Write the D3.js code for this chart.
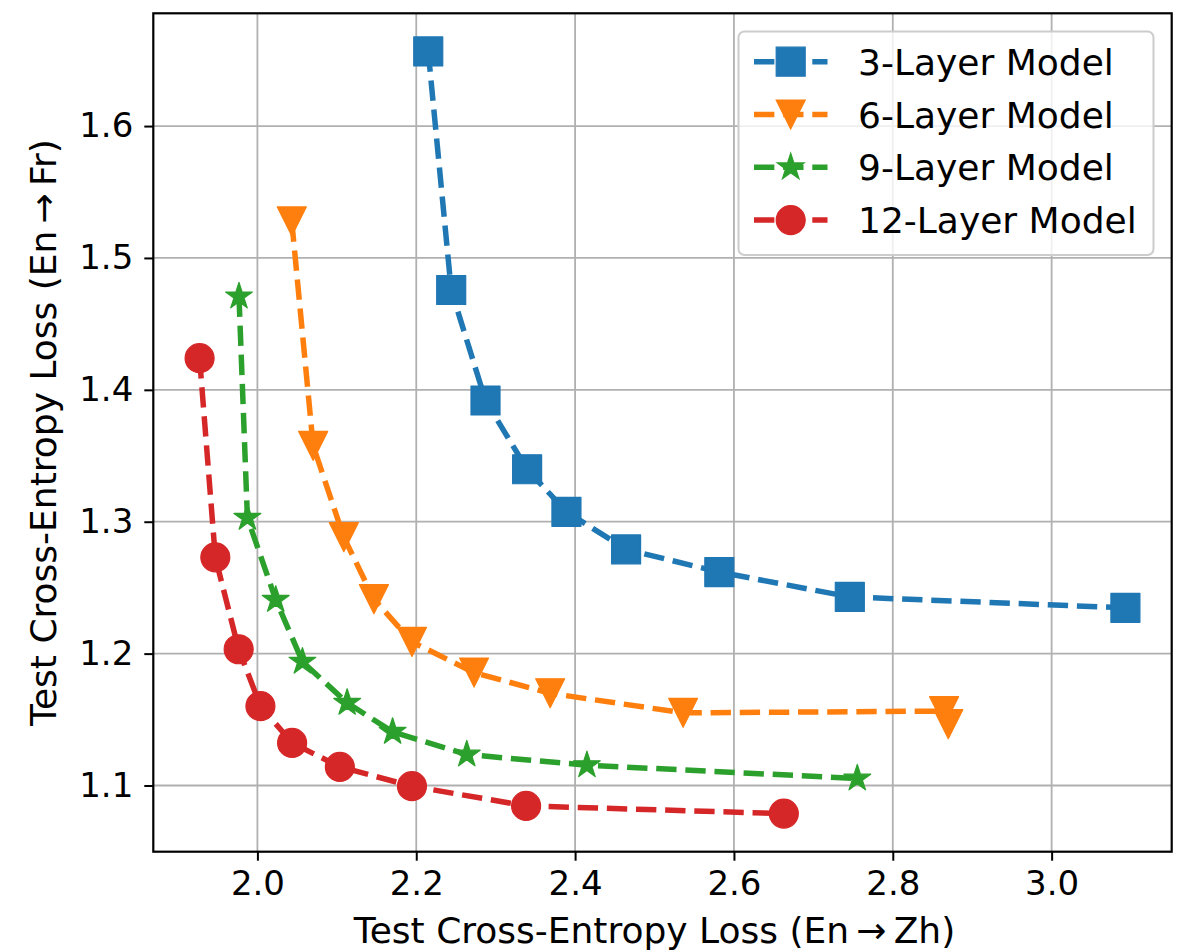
<!DOCTYPE html>
<html>
<head>
<meta charset="utf-8">
<script src="https://cdn.jsdelivr.net/npm/d3@7"></script>
<style>
  html, body { margin: 0; padding: 0; background: #fff; }
  svg { display: block; }
  text { font-family: "DejaVu Sans", sans-serif; fill: #000; }
</style>
</head>
<body>
<svg id="chart" width="1184" height="951"></svg>
<script>
// ---- data ----
const seriesNames = ["3-Layer Model", "6-Layer Model", "9-Layer Model", "12-Layer Model"];
const layer3X  = [2.2151, 2.2440, 2.2872, 2.3396, 2.3891, 2.4642, 2.5816, 2.7459, 3.0929];
const layer3Y  = [1.6566, 1.4757, 1.3919, 1.3398, 1.3075, 1.2790, 1.2618, 1.2430, 1.2347];
const layer6X  = [2.0433, 2.0702, 2.1088, 2.1467, 2.1946, 2.2728, 2.3686, 2.5360, 2.8646, 2.8699];
const layer6Y  = [1.5277, 1.3575, 1.2883, 1.2413, 1.2089, 1.1856, 1.1699, 1.1551, 1.1564, 1.1465];
const layer9X  = [1.9768, 1.9874, 2.0231, 2.0567, 2.1130, 2.1702, 2.2636, 2.4149, 2.7553];
const layer9Y  = [1.4708, 1.3030, 1.2408, 1.1939, 1.1627, 1.1407, 1.1235, 1.1154, 1.1053];
const layer12X = [1.9272, 1.9470, 1.9764, 2.0038, 2.0437, 2.1038, 2.1946, 2.3383, 2.6628];
const layer12Y = [1.4240, 1.2730, 1.2033, 1.1602, 1.1323, 1.1141, 1.0995, 1.0845, 1.0787];
const xTicks = [2.0, 2.2, 2.4, 2.6, 2.8, 3.0];
const yTicks = [1.1, 1.2, 1.3, 1.4, 1.5, 1.6];
const xLabel = "Test Cross-Entropy Loss (En\u2009\u2192\u2009Zh)";
const yLabel = "Test Cross-Entropy Loss (En\u2009\u2192\u2009Fr)";

// ---- styling ----
const colors = ["#1f77b4", "#ff7f0e", "#2ca02c", "#d62728"];
const markers = ["square", "triangleDown", "star", "circle"];
const MS = 29;        // marker size in px
const LW = 5.5;       // line width
const DASH = [3.7 * LW, 1.6 * LW].join(",");
const LABEL_FS = 36, TICK_FS = 34, LEGEND_FS = 36;

const series = [
  {name: seriesNames[0], xs: layer3X,  ys: layer3Y},
  {name: seriesNames[1], xs: layer6X,  ys: layer6Y},
  {name: seriesNames[2], xs: layer9X,  ys: layer9Y},
  {name: seriesNames[3], xs: layer12X, ys: layer12Y},
].map((s, i) => ({...s, color: colors[i], marker: markers[i],
  pts: s.xs.map((x, j) => [x, s.ys[j]])}));

// autoscale like matplotlib (5% margins)
const allX = series.flatMap(s => s.xs), allY = series.flatMap(s => s.ys);
const pad = (ext) => { const d = ext[1] - ext[0]; return [ext[0] - 0.05 * d, ext[1] + 0.05 * d]; };

const plot = {left: 153.3, top: 13.3, right: 1171.7, bottom: 851.7};
const x = d3.scaleLinear().domain(pad(d3.extent(allX))).range([plot.left, plot.right]);
const y = d3.scaleLinear().domain(pad(d3.extent(allY))).range([plot.bottom, plot.top]);

const svg = d3.select("#chart");

// grid
const grid = svg.append("g");
grid.selectAll("line.vx").data(xTicks).join("line")
  .attr("x1", d => x(d)).attr("x2", d => x(d))
  .attr("y1", plot.top).attr("y2", plot.bottom)
  .attr("stroke", "#b0b0b0").attr("stroke-width", 1.8);
grid.selectAll("line.hy").data(yTicks).join("line")
  .attr("y1", d => y(d)).attr("y2", d => y(d))
  .attr("x1", plot.left).attr("x2", plot.right)
  .attr("stroke", "#b0b0b0").attr("stroke-width", 1.8);

// marker path generator
function markerPath(type, ms) {
  const h = ms / 2;
  switch (type) {
    case "square": return `M${-h},${-h}H${h}V${h}H${-h}Z`;
    case "triangleDown": return `M0,${h}L${-h},${-h}L${h},${-h}Z`;
    case "circle": return d3.symbol(d3.symbolCircle, Math.PI * h * h)();
    case "star": return d3.symbol(d3.symbolStar, (h * h) / 0.8908130915292852)();
  }
}

// lines + markers
const line = d3.line().x(d => x(d[0])).y(d => y(d[1]));
const clipId = "plotclip";
svg.append("clipPath").attr("id", clipId).append("rect")
  .attr("x", plot.left).attr("y", plot.top)
  .attr("width", plot.right - plot.left).attr("height", plot.bottom - plot.top);

const marks = svg.append("g").attr("clip-path", `url(#${clipId})`);
series.forEach(s => {
  const g = marks.append("g");
  g.append("path").datum(s.pts).attr("d", line)
    .attr("fill", "none").attr("stroke", s.color)
    .attr("stroke-width", LW).attr("stroke-dasharray", DASH);
  g.selectAll("path.m").data(s.pts).join("path").attr("class", "m")
    .attr("d", markerPath(s.marker, s.marker === "star" ? MS * 0.97 : MS))
    .attr("transform", d => `translate(${x(d[0])},${y(d[1])})`)
    .attr("fill", s.color).attr("stroke", s.color).attr("stroke-width", 1.2)
    .attr("stroke-linejoin", "round");
});

// axes
const xAxis = d3.axisBottom(x).tickValues(xTicks).tickFormat(d3.format(".1f"))
  .tickSizeInner(9).tickSizeOuter(0).tickPadding(10);
const yAxis = d3.axisLeft(y).tickValues(yTicks).tickFormat(d3.format(".1f"))
  .tickSizeInner(9).tickSizeOuter(0).tickPadding(11);
const gx = svg.append("g").attr("transform", `translate(0,${plot.bottom})`).call(xAxis);
const gy = svg.append("g").attr("transform", `translate(${plot.left},0)`).call(yAxis);
[gx, gy].forEach(g => {
  g.select(".domain").remove();
  g.selectAll(".tick line").attr("stroke", "#000").attr("stroke-width", 2);
  g.selectAll(".tick text").attr("font-family", "DejaVu Sans").attr("font-size", TICK_FS).attr("fill", "#000");
});

// frame
svg.append("rect").attr("x", plot.left).attr("y", plot.top)
  .attr("width", plot.right - plot.left).attr("height", plot.bottom - plot.top)
  .attr("fill", "none").attr("stroke", "#000").attr("stroke-width", 2.2);

// axis labels
svg.append("text").attr("x", (plot.left + plot.right) / 2 - 8).attr("y", 943)
  .attr("text-anchor", "middle").attr("font-size", LABEL_FS).text(xLabel);
svg.append("text").attr("transform", `translate(56,${(plot.top + plot.bottom) / 2}) rotate(-90)`)
  .attr("text-anchor", "middle").attr("font-size", LABEL_FS).text(yLabel);

// legend
const leg = svg.append("g");
leg.append("rect").attr("x", 738.5).attr("y", 31.5).attr("width", 415).attr("height", 223.5)
  .attr("rx", 6).attr("fill", "#fff").attr("fill-opacity", 0.8)
  .attr("stroke", "#cccccc").attr("stroke-width", 2);
const rowY0 = 61.7, rowDy = 52.8;
series.forEach((s, i) => {
  const cy = rowY0 + i * rowDy;
  leg.append("line").attr("x1", 754).attr("x2", 827.5).attr("y1", cy).attr("y2", cy)
    .attr("stroke", s.color).attr("stroke-width", LW).attr("stroke-dasharray", DASH);
  leg.append("path").attr("d", markerPath(s.marker, s.marker === "star" ? MS * 0.97 : MS))
    .attr("transform", `translate(790.7,${cy})`)
    .attr("fill", s.color).attr("stroke", s.color).attr("stroke-width", 1.2);
  leg.append("text").attr("x", 858).attr("y", cy + 13).attr("font-size", LEGEND_FS).text(s.name);
});
</script>
</body>
</html>
